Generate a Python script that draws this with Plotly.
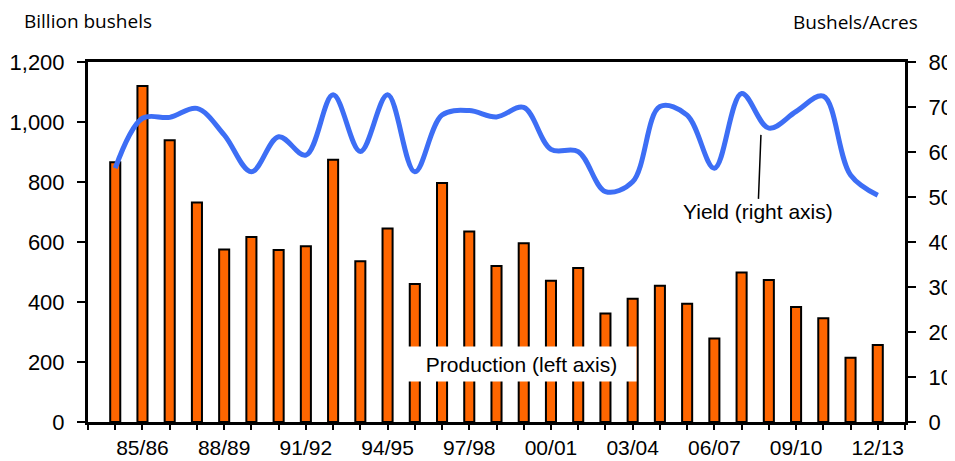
import plotly.graph_objects as go

seasons = ["84/85", "85/86", "86/87", "87/88", "88/89", "89/90", "90/91", "91/92",
           "92/93", "93/94", "94/95", "95/96", "96/97", "97/98", "98/99", "99/00",
           "00/01", "01/02", "02/03", "03/04", "04/05", "05/06", "06/07", "07/08",
           "08/09", "09/10", "10/11", "11/12", "12/13"]
production = [866, 1120, 939, 732, 575, 617, 573, 586, 874, 536, 645, 460, 797, 635,
              520, 596, 471, 513, 362, 411, 454, 394, 278, 498, 473, 383, 346, 214, 257]
yield_ = [56.4, 67.5, 67.7, 69.7, 63.8, 55.6, 63.4, 59.3, 72.7, 60.1, 72.7, 55.6, 68.2, 69.2,
          67.8, 69.9, 60.6, 60.1, 51.2, 53.4, 70.1, 68.2, 56.4, 73.0, 65.3, 69.0, 72.4, 54.9, 50.4]
labeled = ["85/86", "88/89", "91/92", "94/95", "97/98", "00/01", "03/04", "06/07", "09/10", "12/13"]

idx = list(range(len(seasons)))
tickvals = list(range(-1, len(seasons) + 1))
ticktext = [(seasons[v] if 0 <= v < len(seasons) and seasons[v] in labeled else "") for v in tickvals]

TICKFONT = dict(family="Liberation Sans, Arial", size=22, color="black")
XTICKFONT = dict(family="Liberation Sans, Arial", size=21, color="black")

fig = go.Figure()
fig.add_trace(go.Bar(x=idx, y=production, width=0.37,
                     marker=dict(color="#FF6600", line=dict(color="black", width=2)),
                     yaxis="y", showlegend=False))
fig.add_trace(go.Scatter(x=idx, y=yield_, mode="lines",
                         line=dict(color="#3D6EF5", width=5, shape="spline", smoothing=1.0),
                         yaxis="y2", showlegend=False))

fig.update_layout(
    width=947, height=453,
    margin=dict(l=80, r=50, t=54, b=39),
    paper_bgcolor="white", plot_bgcolor="white",
    xaxis=dict(range=[-1, 29], tickvals=tickvals, ticktext=ticktext, automargin=False,
               ticks="outside", ticklen=5, tickwidth=1.5, tickcolor="black",
               showline=True, linewidth=3, linecolor="black", mirror=True,
               showgrid=False, zeroline=False, tickfont=XTICKFONT, ticklabelstandoff=0),
    yaxis=dict(range=[0, 1200], dtick=200, tickformat=",", automargin=False,
               ticks="outside", ticklen=8, tickwidth=1.5, tickcolor="black",
               showline=True, linewidth=3, linecolor="black",
               showgrid=False, zeroline=False, tickfont=TICKFONT, ticklabelstandoff=8),
    yaxis2=dict(range=[0, 80], dtick=10, overlaying="y", side="right", automargin=False,
                ticks="outside", ticklen=8, tickwidth=1.5, tickcolor="black",
                showline=True, linewidth=3, linecolor="black",
                showgrid=False, zeroline=False, tickfont=TICKFONT, ticklabelstandoff=8),
)

fig.add_annotation(text="Billion bushels", xref="paper", yref="paper",
                   x=-66/817, y=1 + 41/360, xanchor="left", yanchor="middle", showarrow=False,
                   font=dict(family="Open Sans", size=19, color="black"))
fig.add_annotation(text="Bushels/Acres", xref="paper", yref="paper",
                   x=1 + 15/817, y=1 + 40/360, xanchor="right", yanchor="middle", showarrow=False,
                   font=dict(family="Open Sans", size=19, color="black"))

fig.add_annotation(text="Yield (right axis)", xref="x", yref="y2", x=23.71, y=63.8,
                   ax=-3, ay=77, showarrow=True, arrowhead=0, arrowwidth=1.5, arrowcolor="black",
                   bgcolor="white", font=dict(family="Liberation Sans, Arial", size=21, color="black"))
fig.add_annotation(text="Production (left axis)", xref="x", yref="y", x=14.9, y=193,
                   showarrow=False, bgcolor="white", width=227, height=32,
                   font=dict(family="Liberation Sans, Arial", size=21, color="black"))

fig.write_html("out.html")
